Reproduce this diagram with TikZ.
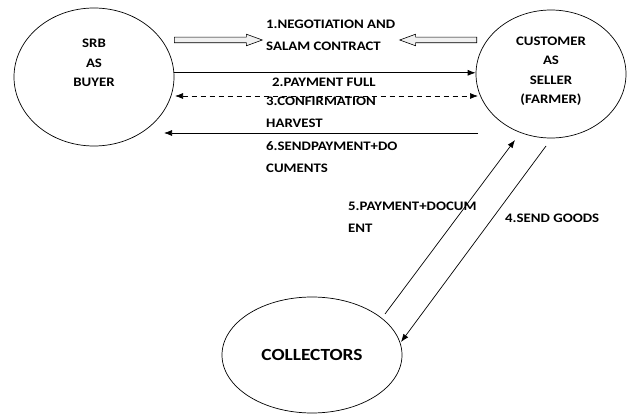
\documentclass[tikz,border=0pt]{standalone}
\usepackage{fontspec}
\setmainfont{Carlito}[FakeStretch=1.14]
\usetikzlibrary{shapes.geometric,shapes.arrows,arrows.meta,positioning}
\tikzset{>={Latex[length=8pt,width=6pt]},
    every node/.style={font=\bfseries\fontsize{13}{22}\selectfont},
    party/.style={ellipse,draw,line width=0.7pt,inner sep=0pt},
    party text/.style={align=center,font=\bfseries\fontsize{13}{19.5}\selectfont},
    flow label/.style={align=left,anchor=west,inner sep=0pt},
    flow/.style={line width=0.7pt,->},
    talk/.style={single arrow,draw,fill=gray!12,line width=0.6pt,inner xsep=0pt,inner ysep=2.5pt,
        text height=0pt,text depth=0pt,single arrow head extend=3pt,single arrow head indent=0pt,
        single arrow tip angle=40},
    }

\begin{document}
\begin{tikzpicture}[x=1pt,y=-1pt]
	\useasboundingbox (0,0) rectangle (627,414);
	% the three parties
	\node[party,minimum width=160pt,minimum height=138pt] (buyer) at (94,77) {};
	\node[party text] (buyerName) at ([yshift=14pt]buyer.center) {SRB\\AS\\BUYER};
	\node[party,minimum width=150pt,minimum height=128pt] (seller) at (551,74) {};
	\node[party text] (sellerName) at ([yshift=3pt]seller.center) {CUSTOMER\\AS\\SELLER\\(FARMER)};
	\node[party,minimum width=180pt,minimum height=116pt,
		font=\bfseries\fontsize{17}{20}\selectfont] (collectors) at (312,355) {COLLECTORS};
	% 1. negotiation
	\node[talk,anchor=tail,minimum height=88pt] (talkBuyer) at (174,40) {};
	\node[talk,anchor=tail,minimum height=77pt,shape border rotate=180] (talkSeller) at (477,40) {};
	\node[flow label] (negotiation) at (266,35) {1.NEGOTIATION AND\\SALAM CONTRACT};
	% 2., 3. and 6.
	\coordinate (confirmL) at (175,96);
	\coordinate (confirmR) at (478,96);
	\coordinate (sendFrom) at (478,133);
	\coordinate (sendTo) at (164,133);
	\draw[flow] (buyer.3) -- (buyer.3 -| seller.west);
	\draw[flow,<->,dash pattern=on 5pt off 4pt] (confirmL) -- (confirmR);
	\draw[flow] (sendFrom) -- (sendTo);
	\node[flow label] (payment) at (272,82) {2.PAYMENT FULL};
	\node[flow label] (confirm) at (266,112.5) {3.CONFIRMATION\\HARVEST};
	\node[flow label] (sendPayment) at (266,157.5) {6.SENDPAYMENT+DO\\CUMENTS};
	% 4. and 5.
	\coordinate (docsFrom) at (385,314);
	\coordinate (docsTo) at (515,140);
	\coordinate (goodsFrom) at (546,146);
	\coordinate (goodsTo) at (401,342);
	\draw[flow] (docsFrom) -- (docsTo);
	\draw[flow] (goodsFrom) -- (goodsTo);
	\node[flow label] (documents) at (348,217) {5.PAYMENT+DOCUM\\ENT};
	\node[flow label] (goods) at (505,218) {4.SEND GOODS};
\end{tikzpicture}
\end{document}
